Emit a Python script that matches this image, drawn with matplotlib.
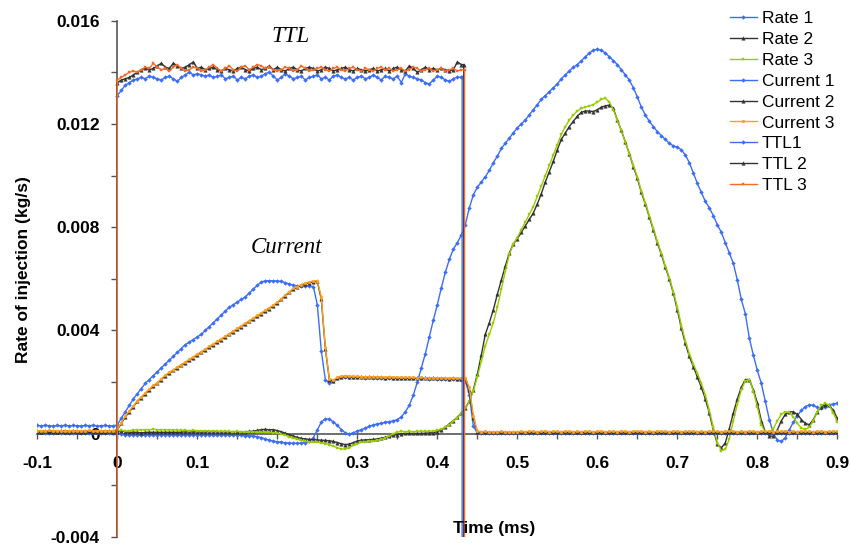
import numpy as np
import matplotlib.pyplot as plt
from matplotlib.ticker import MultipleLocator

plt.rcParams['font.family'] = ['Liberation Sans', 'DejaVu Sans']

# Sample times in ms, one sample every 0.005 ms from -0.1 to 0.9
time = np.round(np.arange(201) * 0.005 - 0.1, 3)

# All traces below are in units of 1e-4 kg/s (current and TTL scaled onto the same axis)
rate_1 = [
    0.4, 0.5, 0.4, 0.3, 0.4, 0.5, 0.4, 0.3, 0.4, 0.4, 0.3, 0.4, 0.3, 0.3, 0.4, 0.3, 0.2, 0.3, 0.3, 0.2,
    0.3, -0.2, -0.4, -0.5, -0.4, -0.5, -0.4, -0.5, -0.4, -0.5, -0.4, -0.5, -0.4, -0.4, -0.5, -0.4, -0.5, -0.4, -0.4, -0.5,
    -0.4, -0.5, -0.5, -0.4, -0.5, -0.5, -0.4, -0.5, -0.5, -0.6, -0.6, -0.6, -0.7, -0.8, -0.9, -1.1, -1.5, -2.0, -2.5, -2.9,
    -3.1, -3.3, -3.5, -3.6, -3.7, -3.7, -3.6, -3.4, -3.0, -1.5, 1.5, 4.5, 5.8, 5.6, 4.6, 3.2, 1.6, 0.3, -0.1, 0.4,
    1.0, 1.6, 2.2, 2.9, 3.4, 3.8, 4.1, 4.4, 4.7, 5.0, 5.5, 6.5, 8.5, 11.0, 15.0, 20.0, 25.5, 31.0, 37.5, 44.0,
    50.0, 56.5, 62.5, 67.5, 71.5, 74.0, 77.0, 81.0, 87.5, 92.5, 95.5, 97.5, 99.5, 102.0, 105.0, 107.5, 110.5, 112.5, 114.5, 116.5,
    118.5, 120.0, 121.5, 123.5, 125.5, 127.5, 129.5, 131.0, 132.5, 134.0, 135.5, 137.5, 139.0, 140.5, 142.0, 143.0, 144.5, 146.0, 147.5, 148.5,
    149.0, 148.5, 147.5, 146.0, 144.5, 143.0, 141.0, 139.0, 137.0, 134.0, 130.5, 126.5, 123.5, 121.0, 119.0, 117.0, 115.5, 114.0, 112.5, 111.5,
    111.0, 110.0, 108.0, 105.0, 101.0, 97.0, 93.5, 90.0, 87.5, 84.5, 81.0, 78.0, 74.0, 70.0, 66.0, 59.5, 52.0, 46.5, 37.0, 30.5,
    24.5, 19.5, 12.5, 5.5, 0.2, -2.5, -3.0, -1.5, 1.5, 4.5, 7.0, 9.0, 10.5, 11.2, 11.0, 10.2, 10.0, 10.5, 11.2, 11.5,
    11.8,
]

rate_2 = [
    0.8, 0.6, 0.9, 0.7, 0.8, 0.6, 0.9, 0.8, 0.7, 0.9, 0.6, 0.8, 0.7, 0.9, 0.8, 0.6, 0.8, 0.7, 0.9, 0.7,
    0.8, 1.2, 0.7, 0.5, 0.6, 0.5, 0.4, 0.5, 0.6, 0.5, 0.6, 0.5, 0.6, 0.5, 0.6, 0.5, 0.6, 0.7, 0.6, 0.7,
    0.7, 0.6, 0.7, 0.8, 0.7, 0.8, 0.7, 0.8, 0.7, 0.8, 0.8, 0.7, 0.8, 0.9, 1.0, 1.3, 1.6, 1.7, 1.5, 1.6,
    1.2, 0.8, 0.2, -0.4, -0.9, -1.4, -1.8, -2.0, -2.2, -2.3, -2.4, -2.5, -2.6, -2.7, -3.0, -3.4, -3.9, -4.2, -4.0, -3.4,
    -2.8, -2.5, -2.4, -2.3, -2.2, -2.0, -1.7, -1.4, -1.0, -0.6, -0.3, 0.0, 0.1, 0.1, 0.1, 0.1, 0.1, 0.2, 0.3, 0.4,
    0.8, 1.5, 2.5, 3.8, 5.0, 6.3, 8.0, 10.0, 12.5, 17.0, 23.0, 30.5, 38.5, 43.0, 48.0, 54.0, 59.5, 65.0, 70.0, 73.5,
    75.5, 78.0, 80.5, 83.0, 85.5, 89.0, 93.0, 97.5, 101.5, 105.5, 110.0, 114.0, 116.5, 119.0, 121.0, 123.0, 124.5, 125.0, 125.0, 124.8,
    125.5, 126.5, 127.0, 127.3, 126.0, 121.5, 117.5, 113.0, 108.5, 103.5, 99.0, 93.5, 89.0, 84.0, 79.0, 74.0, 69.5, 64.5, 60.0, 54.5,
    48.0, 41.0, 35.0, 30.0, 26.0, 22.0, 18.0, 13.5, 8.0, 1.5, -4.0, -5.5, -3.5, 2.0, 8.0, 13.5, 18.0, 21.0, 21.0, 17.0,
    12.0, 5.0, 0.8, -0.8, -1.0, 1.5, 5.0, 7.5, 8.5, 8.5, 7.5, 5.5, 4.0, 3.5, 5.5, 8.5, 10.5, 11.2, 11.0, 9.0,
    6.0,
]

rate_3 = [
    0.9, 1.0, 0.8, 1.0, 0.9, 1.1, 0.9, 1.0, 0.8, 1.0, 0.9, 1.0, 0.9, 1.1, 1.0, 0.9, 1.0, 0.9, 1.0, 0.9,
    0.9, 1.4, 1.0, 1.2, 1.4, 1.5, 1.4, 1.6, 1.5, 1.7, 1.6, 1.5, 1.6, 1.4, 1.5, 1.4, 1.3, 1.4, 1.2, 1.3,
    1.2, 1.1, 1.2, 1.0, 1.1, 1.0, 0.9, 1.0, 0.9, 0.8, 0.9, 0.8, 0.7, 0.8, 0.7, 0.6, 0.6, 0.5, 0.5, 0.4,
    0.2, -0.2, -0.6, -1.1, -1.6, -2.1, -2.6, -2.9, -3.1, -3.2, -3.3, -3.5, -3.8, -4.2, -4.8, -5.4, -5.9, -5.9, -5.4, -4.5,
    -3.8, -3.3, -3.1, -3.0, -2.9, -2.6, -2.2, -1.6, -0.8, 0.0, 0.6, 0.9, 0.8, 0.9, 0.8, 0.9, 1.0, 0.9, 1.0, 1.1,
    1.3, 1.8, 2.5, 3.5, 4.8, 6.2, 8.0, 10.0, 12.5, 16.5, 22.0, 28.0, 34.0, 38.5, 43.0, 49.0, 56.0, 63.0, 69.5, 73.5,
    76.0, 79.0, 82.0, 85.0, 88.0, 92.0, 96.0, 100.0, 104.0, 108.0, 112.0, 116.0, 119.0, 121.5, 123.5, 125.0, 126.0, 126.5, 127.0, 127.5,
    128.5, 129.5, 130.0, 128.5, 125.5, 121.5, 117.5, 113.0, 108.5, 104.0, 99.5, 94.0, 89.5, 84.5, 79.5, 74.5, 70.0, 65.0, 60.5, 55.0,
    49.0, 42.0, 36.0, 31.0, 27.0, 23.5, 19.5, 15.0, 9.0, 2.5, -3.5, -6.5, -6.0, -2.0, 5.0, 11.5, 17.0, 20.5, 21.0, 16.5,
    10.5, 3.5, 0.5, 0.3, 2.0, 5.0, 7.5, 8.5, 8.3, 6.5, 4.0, 2.2, 1.7, 2.5, 5.0, 8.5, 11.0, 11.8, 11.0, 8.0,
    4.7,
]

current_1 = [
    3.2, 3.0, 3.3, 3.1, 3.0, 3.2, 3.1, 3.3, 3.0, 3.2, 3.1, 3.0, 3.2, 3.1, 3.3, 3.0, 3.1, 3.2, 3.0, 3.1,
    3.4, 6.0, 8.5, 11.0, 13.5, 15.5, 17.5, 19.5, 21.0, 22.5, 24.0, 25.5, 27.0, 28.5, 30.0, 31.5, 33.0, 34.5, 35.5, 36.5,
    37.5, 38.5, 40.0, 41.5, 43.0, 44.5, 46.0, 47.5, 49.0, 50.0, 51.0, 52.0, 53.0, 54.5, 56.0, 57.5, 58.8, 59.2, 59.3, 59.2,
    59.2, 59.0, 58.5, 58.0, 57.5, 57.3, 57.2, 57.2, 57.2, 57.0, 50.0, 32.0, 21.0, 19.5, 20.5, 21.5, 22.0, 22.0, 22.0, 22.0,
    21.8, 21.8, 21.7, 21.8, 21.7, 21.7, 21.6, 21.7, 21.6, 21.6, 21.5, 21.6, 21.5, 21.5, 21.4, 21.5, 21.4, 21.4, 21.3, 21.4,
    21.3, 21.3, 21.2, 21.3, 21.2, 21.2, 21.0, 20.5, 15.0, 3.0, 0.3, 0.2, 0.3, 0.2, 0.1, 0.2, 0.2, 0.1, 0.2, 0.1,
    0.2, 0.1, 0.2, 0.3, 0.2, 0.1, 0.2, 0.2, 0.1, 0.2, 0.3, 0.2, 0.1, 0.2, 0.2, 0.3, 0.2, 0.1, 0.2, 0.2,
    0.1, 0.2, 0.3, 0.2, 0.2, 0.1, 0.2, 0.3, 0.2, 0.1, 0.2, 0.2, 0.3, 0.2, 0.1, 0.2, 0.2, 0.1, 0.3, 0.2,
    0.2, 0.3, 0.2, 0.1, 0.2, 0.2, 0.1, 0.2, 0.3, 0.2, 0.2, 0.1, 0.2, 0.2, 0.3, 0.2, 0.1, 0.2, 0.2, 0.3,
    0.2, 0.1, 0.2, 0.2, 0.3, 0.2, 0.1, 0.2, 0.2, 0.1, 0.2, 0.3, 0.2, 0.2, 0.1, 0.2, 0.3, 0.2, 0.1, 0.2,
    0.2,
]

current_2 = [
    1.0, 0.8, 1.2, 0.9, 1.1, 0.8, 1.0, 1.2, 0.9, 1.0, 1.1, 0.8, 1.0, 0.9, 1.2, 1.0, 0.9, 1.1, 1.0, 0.9,
    1.5, 4.0, 6.5, 8.5, 10.5, 12.5, 14.0, 15.5, 17.0, 18.5, 19.5, 21.0, 22.5, 23.5, 24.5, 25.5, 26.5, 27.5, 28.5, 29.5,
    30.5, 31.5, 32.5, 33.5, 34.5, 35.5, 36.5, 37.5, 38.5, 39.5, 40.5, 41.5, 42.5, 43.5, 44.5, 45.5, 46.5, 47.5, 48.5, 49.5,
    50.8, 52.0, 53.5, 54.8, 56.0, 56.8, 57.5, 58.0, 58.5, 58.8, 59.0, 52.0, 33.0, 21.0, 20.5, 21.5, 22.0, 22.2, 22.1, 22.0,
    22.0, 21.9, 21.9, 21.8, 21.9, 21.8, 21.8, 21.7, 21.8, 21.7, 21.7, 21.6, 21.7, 21.6, 21.6, 21.5, 21.6, 21.5, 21.5, 21.4,
    21.4, 21.5, 21.4, 21.3, 21.4, 21.3, 21.3, 21.2, 17.0, 6.0, 0.8, 0.6, 0.7, 0.5, 0.6, 0.5, 0.7, 0.6, 0.5, 0.6,
    0.5, 0.7, 0.6, 0.5, 0.6, 0.7, 0.5, 0.6, 0.6, 0.5, 0.7, 0.6, 0.5, 0.6, 0.7, 0.6, 0.5, 0.6, 0.6, 0.7,
    0.6, 0.5, 0.6, 0.7, 0.6, 0.5, 0.6, 0.6, 0.7, 0.5, 0.6, 0.6, 0.5, 0.7, 0.6, 0.5, 0.6, 0.7, 0.6, 0.5,
    0.6, 0.7, 0.5, 0.6, 0.6, 0.7, 0.6, 0.5, 0.6, 0.6, 0.5, 0.7, 0.6, 0.6, 0.5, 0.6, 0.7, 0.6, 0.5, 0.6,
    0.7, 0.6, 0.5, 0.6, 0.6, 0.5, 0.7, 0.6, 0.6, 0.5, 0.6, 0.7, 0.6, 0.5, 0.6, 0.6, 0.7, 0.5, 0.6, 0.6,
    0.6,
]

current_3 = [
    1.2, 1.0, 1.1, 1.3, 1.0, 1.2, 1.1, 0.9, 1.2, 1.1, 1.0, 1.2, 1.1, 1.3, 1.0, 1.1, 1.2, 1.0, 1.1, 1.2,
    1.8, 4.3, 6.8, 8.8, 10.8, 12.7, 14.3, 15.8, 17.3, 18.7, 19.8, 21.3, 22.7, 23.8, 24.8, 25.8, 26.8, 27.8, 28.8, 29.8,
    30.8, 31.8, 32.8, 33.8, 34.8, 35.8, 36.8, 37.8, 38.8, 39.8, 40.8, 41.8, 42.8, 43.8, 44.8, 45.8, 46.8, 47.8, 48.8, 49.8,
    51.0, 52.3, 53.8, 55.0, 56.3, 57.0, 57.8, 58.3, 58.8, 59.2, 59.3, 53.0, 33.5, 21.3, 20.8, 21.8, 22.3, 22.4, 22.3, 22.2,
    22.2, 22.1, 22.1, 22.0, 22.1, 22.0, 22.0, 21.9, 22.0, 21.9, 21.9, 21.8, 21.9, 21.8, 21.8, 21.7, 21.8, 21.7, 21.7, 21.6,
    21.6, 21.7, 21.6, 21.5, 21.6, 21.5, 21.5, 21.4, 18.0, 7.0, 1.0, 0.8, 0.9, 0.7, 0.8, 0.7, 0.9, 0.8, 0.7, 0.8,
    0.8, 0.9, 0.8, 1.0, 0.9, 0.8, 0.9, 1.0, 0.8, 0.9, 0.9, 0.8, 1.0, 0.9, 0.8, 0.9, 0.8, 1.0, 0.9, 0.8,
    0.9, 1.0, 0.8, 0.9, 0.9, 0.8, 1.0, 0.9, 0.8, 0.9, 1.0, 0.9, 0.8, 0.9, 0.8, 1.0, 0.9, 0.9, 0.8, 0.9,
    1.0, 0.8, 0.9, 0.9, 1.0, 0.8, 0.9, 0.8, 1.0, 0.9, 0.9, 0.8, 0.9, 1.0, 0.9, 0.8, 0.9, 0.8, 1.0, 0.9,
    0.8, 0.9, 1.0, 0.9, 0.8, 0.9, 0.9, 1.0, 0.8, 0.9, 0.8, 1.0, 0.9, 0.9, 0.8, 0.9, 1.0, 0.8, 0.9, 0.9,
    0.9,
]

# TTL signals, sampled from 0 to 0.43 ms while high; low level is off the scale
ttl_time = time[20:107]
ttl_low = -200.0
ttl_off = [0.431, 0.433, 0.434]

ttl_1 = [
    131.0, 133.0, 135.0, 136.0, 137.0, 137.5, 138.0, 137.5, 138.5, 138.0, 137.5, 137.0, 138.0, 138.5, 137.5, 136.5, 138.0, 139.0, 140.0, 139.0,
    139.5, 139.0, 138.5, 139.0, 138.0, 138.5, 139.0, 137.5, 138.0, 138.5, 137.0, 138.0, 137.5, 138.5, 139.0, 138.0, 138.5, 139.5, 140.0, 138.5,
    137.0, 138.0, 139.5, 138.5, 137.5, 138.0, 138.5, 137.0, 138.0, 138.5, 139.0, 137.5, 138.0, 137.0, 138.5, 139.0, 138.0, 137.5, 138.0, 137.0,
    138.0, 138.5, 137.5, 138.0, 139.0, 138.0, 137.0, 138.5, 138.0, 137.5, 138.5, 136.0, 139.5, 138.5, 138.0, 137.5, 137.0, 136.0, 135.5, 137.0,
    138.5, 138.0, 137.0, 136.5, 137.5, 138.2, 138.0,
]

ttl_2 = [
    136.0, 137.0, 137.5, 138.0, 139.0, 140.0, 141.0, 141.5, 141.0, 141.5, 142.5, 143.5, 142.0, 141.5, 143.5, 142.5, 141.5, 142.0, 143.0, 144.0,
    141.5, 142.0, 141.0, 141.5, 142.0, 141.0, 140.5, 141.5, 141.0, 140.5, 141.5, 142.0, 141.0, 140.5, 141.5, 142.0, 141.0, 141.5, 142.5, 141.0,
    142.0, 141.0, 140.5, 141.5, 142.0, 141.0, 140.5, 141.5, 142.0, 141.5, 140.5, 141.0, 142.0, 141.5, 140.5, 141.0, 141.5, 142.0, 141.0, 140.5,
    141.5, 141.0, 140.5, 141.0, 141.5, 140.5, 141.0, 141.5, 140.5, 141.5, 142.0, 141.0, 140.5, 142.5, 141.5, 140.0, 141.0, 142.0, 141.0, 141.5,
    141.0, 141.5, 141.0, 140.5, 141.0, 144.0, 143.0,
]

ttl_3 = [
    137.0, 138.0, 139.0, 140.0, 140.5, 140.0, 141.0, 142.0, 141.5, 143.5, 142.0, 141.0, 141.5, 140.5, 142.0, 143.0, 141.5, 140.5, 141.0, 142.0,
    141.5, 140.5, 141.0, 142.0, 143.0, 141.5, 140.5, 141.5, 142.5, 141.0, 140.5, 142.0, 142.5, 141.0, 142.0, 143.0, 142.5, 141.5, 142.0, 141.0,
    140.5, 141.0, 142.0, 141.5, 140.5, 141.0, 142.5, 141.5, 140.5, 141.0, 141.5, 142.0, 141.0, 140.5, 141.5, 142.0, 141.0, 140.5, 141.5, 142.0,
    141.0, 140.5, 141.5, 141.0, 140.5, 141.5, 142.0, 141.0, 141.5, 140.5, 141.0, 141.5, 140.5, 141.0, 142.0, 141.5, 140.5, 141.0, 141.5, 140.5,
    141.0, 141.5, 140.5, 141.0, 141.5, 140.5, 141.0,
]

SCALE = 1e-4

blue = '#3b6ef5'
dark = '#333333'
green = '#99cc00'
orange = '#ffa01e'
red_orange = '#f26c28'

fig = plt.figure(figsize=(8.5, 5.47), dpi=100)
ax = fig.add_axes([0.0439, 0.0183, 0.9412, 0.9439])

# label, values, colour, marker, marker size
traces = [
    ("Rate 1", rate_1, blue, "D", 1.9),
    ("Rate 2", rate_2, dark, "^", 2.5),
    ("Rate 3", rate_3, green, "s", 1.7),
    ("Current 1", current_1, blue, "D", 1.9),
    ("Current 2", current_2, dark, "^", 2.5),
    ("Current 3", current_3, orange, "o", 2.0),
]
for label, vals, color, marker, ms in traces:
    ax.plot(time, np.array(vals) * SCALE, color=color, lw=1.0, marker=marker,
            markersize=ms, markeredgewidth=0.3, label=label, zorder=3)

ttl_traces = [
    ("TTL1", ttl_1, ttl_off[0], blue, "D", 1.9),
    ("TTL 2", ttl_2, ttl_off[1], dark, "^", 2.5),
    ("TTL 3", ttl_3, ttl_off[2], red_orange, "s", 1.8),
]
for label, vals, off, color, marker, ms in ttl_traces:
    t = np.concatenate([[-0.1, 0.0], ttl_time, [off, off, 0.9]])
    y = np.concatenate([[ttl_low, ttl_low], vals, [vals[-1], ttl_low, ttl_low]]) * SCALE
    ax.plot(t, y, color=color, lw=1.0, marker=marker, markersize=ms,
            markeredgewidth=0.3, label=label, zorder=3)

ax.set_xlim(-0.1, 0.9)
ax.set_ylim(-0.004, 0.016)

# axes cross at the origin
ax.spines['left'].set_position(('data', 0))
ax.spines['bottom'].set_position(('data', 0))
ax.spines['top'].set_visible(False)
ax.spines['right'].set_visible(False)
for side in ('left', 'bottom'):
    ax.spines[side].set_color('#555555')
    ax.spines[side].set_linewidth(1.2)

x_labels = ["-0.1", "0", "0.1", "0.2", "0.3", "0.4", "0.5", "0.6", "0.7", "0.8", "0.9"]
y_labels = ["-0.004", "0", "0.004", "0.008", "0.012", "0.016"]
ax.set_xticks(np.linspace(-0.1, 0.9, len(x_labels)))
ax.set_xticklabels(x_labels, fontweight='bold', fontsize=12.5)
ax.set_yticks(np.linspace(-0.004, 0.016, len(y_labels)))
ax.set_yticklabels(y_labels, fontweight='bold', fontsize=12.5)
ax.xaxis.set_minor_locator(MultipleLocator(0.05))
ax.yaxis.set_minor_locator(MultipleLocator(0.002))
ax.tick_params(axis='x', which='both', direction='out', length=3.5, width=1,
               color='#555555', pad=12.5)
ax.tick_params(axis='y', which='both', direction='out', length=4.5, width=1,
               color='#555555', pad=8)

fig.text(494 / 850, 1 - 528 / 547, "Time (ms)", ha='center', va='center',
         fontweight='bold', fontsize=12.5)
fig.text(24 / 850, 1 - 270 / 547, "Rate of injection (kg/s)", ha='center',
         va='center', rotation=90, fontweight='bold', fontsize=12.5)

ax.text(0.217, 0.0154, "TTL", ha='center', va='center', fontsize=16.5,
        fontstyle='italic', family='Liberation Serif')
ax.text(0.212, 0.0072, "Current", ha='center', va='center', fontsize=16.5,
        fontstyle='italic', family='Liberation Serif')

leg = ax.legend(loc='upper left', bbox_to_anchor=(730 / 850, 1 - 11 / 547),
                bbox_transform=fig.transFigure, frameon=False, fontsize=12.5,
                borderpad=0, borderaxespad=0, handlelength=1.55,
                handletextpad=0.3, labelspacing=0.33)

fig.savefig("out.png", dpi=100)
